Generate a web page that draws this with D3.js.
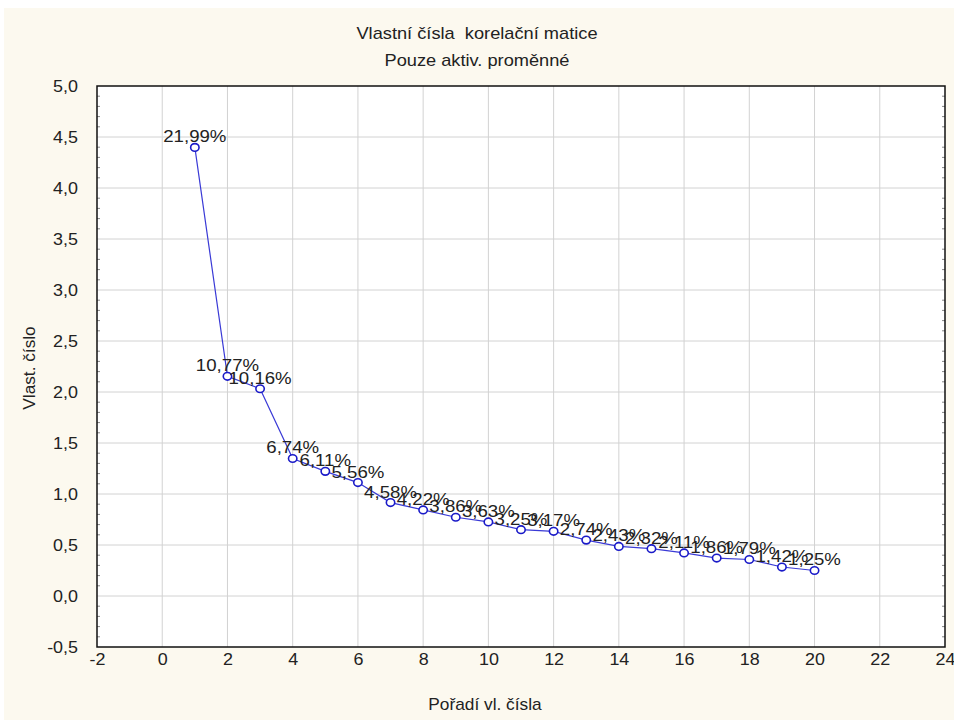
<!DOCTYPE html>
<html>
<head>
<meta charset="utf-8">
<script src="https://cdn.jsdelivr.net/npm/d3@7"></script>
<style>
  html, body { margin: 0; padding: 0; background: #ffffff; }
  svg { display: block; }
  text { font-family: "Liberation Sans", Arial, sans-serif; fill: #222; white-space: pre; }
</style>
</head>
<body>
<svg id="chart"></svg>
<script>
// eigenvalue order, eigenvalues and the % of variance shown beside each point
const order = [1, 2, 3, 4, 5, 6, 7, 8, 9, 10, 11, 12, 13, 14, 15, 16, 17, 18, 19, 20]
const eigenvalues = [4.398, 2.154, 2.032, 1.348, 1.222, 1.112, 0.916, 0.844, 0.772, 0.726,
  0.650, 0.634, 0.548, 0.486, 0.464, 0.422, 0.372, 0.358, 0.284, 0.250]
const pctLabels = ['21,99%', '10,77%', '10,16%', '6,74%', '6,11%', '5,56%', '4,58%', '4,22%', '3,86%', '3,63%',
  '3,25%', '3,17%', '2,74%', '2,43%', '2,32%', '2,11%', '1,86%', '1,79%', '1,42%', '1,25%']
const xTicks = [-2, 0, 2, 4, 6, 8, 10, 12, 14, 16, 18, 20, 22, 24]
const yTicks = [-0.5, 0, 0.5, 1, 1.5, 2, 2.5, 3, 3.5, 4, 4.5, 5]

const width = 954
const height = 720
const margin = {top: 86, right: 9, bottom: 73, left: 97}

const svg = d3.select('#chart')
  .attr('width', width)
  .attr('height', height)

// widen a text element around its own x (the reference text is a bit wide)
function widen(sel, k = 1.14) {
  sel.attr('transform', function () {
    let tx = +this.getAttribute('x') || 0
    return `translate(${tx},0) scale(${k},1) translate(${-tx},0)`
  })
}

// cream panel behind everything
svg.append('rect')
  .attr('x', 4).attr('y', 8)
  .attr('width', width - 4).attr('height', height - 8)
  .attr('fill', '#fcf9ef')

const x = d3.scaleLinear().domain([-2, 24]).range([margin.left, width - margin.right])
const y = d3.scaleLinear().domain([-0.5, 5]).range([height - margin.bottom, margin.top])
const fmtY = d => d3.format('.1f')(d).replace('.', ',').replace('−', '-')
const fmtX = d => String(d)

svg.append('rect')
  .attr('x', margin.left).attr('y', margin.top)
  .attr('width', x.range()[1] - margin.left)
  .attr('height', y.range()[0] - margin.top)
  .attr('fill', '#fff')

// grid
svg.append('g')
  .selectAll('line').data(xTicks.slice(1, -1))
  .enter().append('line')
  .attr('x1', d => x(d)).attr('x2', d => x(d))
  .attr('y1', margin.top).attr('y2', y.range()[0])
  .attr('stroke', '#d2d2d2')
svg.append('g')
  .selectAll('line').data(yTicks.slice(1, -1))
  .enter().append('line')
  .attr('y1', d => y(d)).attr('y2', d => y(d))
  .attr('x1', margin.left).attr('x2', x.range()[1])
  .attr('stroke', '#d2d2d2')

// minor ticks on the left and right sides
const minor = d3.range(-0.4, 5, 0.1).filter(v => Math.abs(Math.round(v * 2) - v * 2) > 0.01)
svg.append('g')
  .selectAll('line').data(minor)
  .enter().append('line')
  .attr('x1', margin.left).attr('x2', margin.left + 3)
  .attr('y1', d => y(d)).attr('y2', d => y(d))
  .attr('stroke', '#888')
svg.append('g')
  .selectAll('line').data(minor)
  .enter().append('line')
  .attr('x1', x.range()[1] - 3).attr('x2', x.range()[1])
  .attr('y1', d => y(d)).attr('y2', d => y(d))
  .attr('stroke', '#888')

// axes
const xAxis = d3.axisBottom(x).tickValues(xTicks).tickSize(0).tickPadding(7).tickFormat(fmtX)
const xAxisG = svg.append('g').attr('transform', `translate(0,${y.range()[0]})`).call(xAxis)
const yAxis = d3.axisLeft(y).tickValues(yTicks).tickSize(0).tickPadding(19).tickFormat(fmtY)
const yAxisG = svg.append('g').attr('transform', `translate(${margin.left},0)`).call(yAxis)
for (const g of [xAxisG, yAxisG]) {
  g.select('.domain').remove()
  g.selectAll('text').attr('font-size', 16).attr('fill', '#222')
    .attr('font-family', '"Liberation Sans", Arial, sans-serif')
    .call(widen, 1.12)
}

// plot frame
svg.append('rect')
  .attr('x', margin.left).attr('y', margin.top)
  .attr('width', x.range()[1] - margin.left)
  .attr('height', y.range()[0] - margin.top)
  .attr('fill', 'none').attr('stroke', '#111').attr('stroke-width', 1.5)

// line and points
const line = d3.line().x((d, i) => x(order[i])).y(d => y(d))
svg.append('path')
  .datum(eigenvalues)
  .attr('d', line)
  .attr('fill', 'none')
  .attr('stroke', '#3a3ad6')
  .attr('stroke-width', 1.2)

svg.append('g')
  .selectAll('ellipse').data(eigenvalues)
  .enter().append('ellipse')
  .attr('cx', (d, i) => x(order[i]))
  .attr('cy', d => y(d))
  .attr('rx', 4.2).attr('ry', 3.8)
  .attr('fill', '#fff')
  .attr('stroke', '#1a1ac8')
  .attr('stroke-width', 1.6)

svg.append('g')
  .selectAll('text').data(eigenvalues)
  .enter().append('text')
  .attr('x', (d, i) => x(order[i]))
  .attr('y', d => y(d) - 5)
  .attr('text-anchor', 'middle')
  .attr('font-size', 16.5)
  .text((d, i) => pctLabels[i])
  .call(widen, 1.13)

// titles
svg.append('text')
  .attr('x', 477).attr('y', 39)
  .attr('text-anchor', 'middle').attr('font-size', 16)
  .text('Vlastní čísla  korelační matice')
  .call(widen, 1.14)
svg.append('text')
  .attr('x', 477).attr('y', 66)
  .attr('text-anchor', 'middle').attr('font-size', 16)
  .text('Pouze aktiv. proměnné')
  .call(widen, 1.14)
svg.append('text')
  .attr('x', 485).attr('y', 710)
  .attr('text-anchor', 'middle').attr('font-size', 16)
  .text('Pořadí vl. čísla')
  .call(widen, 1.08)
svg.append('text')
  .attr('transform', 'translate(35,368) rotate(-90) scale(1.15,1.15)')
  .attr('text-anchor', 'middle').attr('font-size', 15)
  .text('Vlast. číslo')
</script>
</body>
</html>
